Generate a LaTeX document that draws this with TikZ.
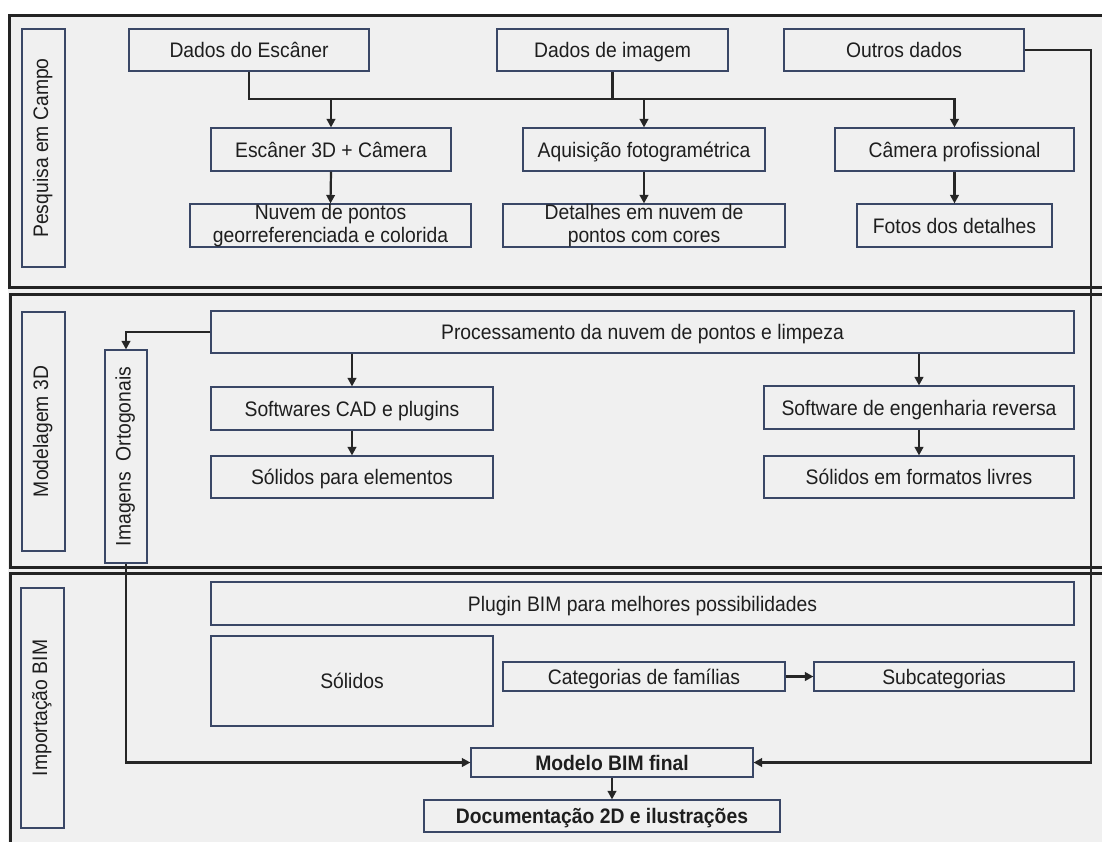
\documentclass[tikz,border=0pt]{standalone}
\usepackage{fontspec}
\setmainfont[FakeStretch=0.92]{Liberation Sans}
\usetikzlibrary{arrows.meta}
\definecolor{bg}{HTML}{F0F0F0}
\definecolor{frame}{HTML}{232323}
\definecolor{boxline}{HTML}{3A4766}
\definecolor{txt}{HTML}{1E1E1E}
\definecolor{conncol}{HTML}{262626}
\tikzset{
  bx/.style={draw=boxline, line width=1.1pt, fill=bg, text=txt, inner sep=0pt, align=center,
    font=\fontsize{21}{22.5}\selectfont},
  one/.style={text height=19.5pt, text depth=4.5pt},
  panel/.style={draw=frame, line width=3pt},
  conn/.style={draw=conncol, line width=2.2pt},
  arr/.style={conn, -{Triangle[length=8.5pt,width=8.5pt]}},
}
\newcommand{\boxat}[7][one]{% style, name, x1, x2, y1, y2, text
  \node[bx, #1, minimum width={(#4)-(#3)}, minimum height={(#6)-(#5)}] (#2) at ({((#3)+(#4))/2},{((#5)+(#6))/2}) {#7};}
\newcommand{\vtext}[1]{\rotatebox{90}{\strut #1}}
\begin{document}
\begin{tikzpicture}[x=1pt,y=-1pt]
\useasboundingbox (0,0) rectangle (1102,841);
\fill[bg] (8,14) rectangle (1110,850);
% panels
\draw[panel] (9,15) rectangle (1110,287);
\draw[panel] (10,294) rectangle (1110,567);
\draw[panel] (10,573) rectangle (1110,860);
% labels
\boxat[]{lab1}{22}{65}{29}{267}{\vtext{Pesquisa em Campo}}
\boxat[]{lab2}{22}{65}{312}{551}{\vtext{Modelagem 3D}}
\boxat[]{lab3}{21}{64}{588}{828}{\vtext{Importação BIM}}
\boxat[]{orto}{105}{147}{350}{563}{\vtext{Imagens\ \ Ortogonais}}
% panel 1
\boxat{scan}{129}{369}{29}{71}{Dados do Escâner}
\boxat{img}{497}{728}{29}{71}{Dados de imagem}
\boxat{out}{784}{1024}{29}{71}{Outros dados}
\boxat{cam}{211}{451}{128}{171}{Escâner 3D + Câmera}
\boxat{foto}{523}{765}{128}{171}{Aquisição fotogramétrica}
\boxat{prof}{835}{1074}{128}{171}{Câmera profissional}
\boxat[]{nuv}{190}{471}{204}{247}{Nuvem de pontos\\georreferenciada e colorida}
\boxat[]{det}{503}{785}{204}{247}{Detalhes em nuvem de\\pontos com cores}
\boxat{fdet}{857}{1052}{204}{247}{Fotos dos detalhes}
% panel 2
\boxat{proc}{211}{1074}{311}{353}{Processamento da nuvem de pontos e limpeza}
\boxat{cad}{211}{493}{387}{430}{Softwares CAD e plugins}
\boxat{solel}{211}{493}{456}{498}{Sólidos para elementos}
\boxat{rev}{764}{1074}{386}{429}{Software de engenharia reversa}
\boxat{solfl}{764}{1074}{456}{498}{Sólidos em formatos livres}
% panel 3
\boxat{plug}{211}{1074}{582}{625}{Plugin BIM para melhores possibilidades}
\boxat{sol}{211}{493}{636}{726}{Sólidos}
\boxat{cat}{503}{785}{662}{691}{Categorias de famílias}
\boxat{sub}{814}{1074}{662}{691}{Subcategorias}
\boxat{modelo}{471}{753}{748}{777}{\textbf{Modelo BIM final}}
\boxat{doc}{424}{780}{800}{832}{\textbf{Documentação 2D e ilustrações}}
% connectors panel 1
\coordinate (bus) at (0,99);
\coordinate (rc) at (1091,0);
\draw[arr] (scan.south) -- (scan.south |- bus) -| (prof.north);
\draw[conn] (img.south) -- (img.south |- bus);
\draw[arr] (cam.north |- bus) -- (cam.north);
\draw[arr] (foto.north |- bus) -- (foto.north);
\draw[arr] (cam.south) -- (nuv.north);
\draw[arr] (foto.south) -- (det.north);
\draw[arr] (prof.south) -- (fdet.north);
\draw[arr] (out.east) -- (rc |- out.east) -- (rc |- modelo.east) -- (modelo.east);
% connectors panel 2
\draw[arr] (proc.west) -| (orto.north);
\draw[arr] (proc.south -| cad.north) -- (cad.north);
\draw[arr] (proc.south -| rev.north) -- (rev.north);
\draw[arr] (cad.south) -- (solel.north);
\draw[arr] (rev.south) -- (solfl.north);
% connectors panel 3
\draw[arr] (orto.south) |- (modelo.west);
\draw[arr] (cat.east) -- (sub.west);
\draw[arr] (modelo.south) -- (modelo.south |- doc.north);
\end{tikzpicture}
\end{document}
